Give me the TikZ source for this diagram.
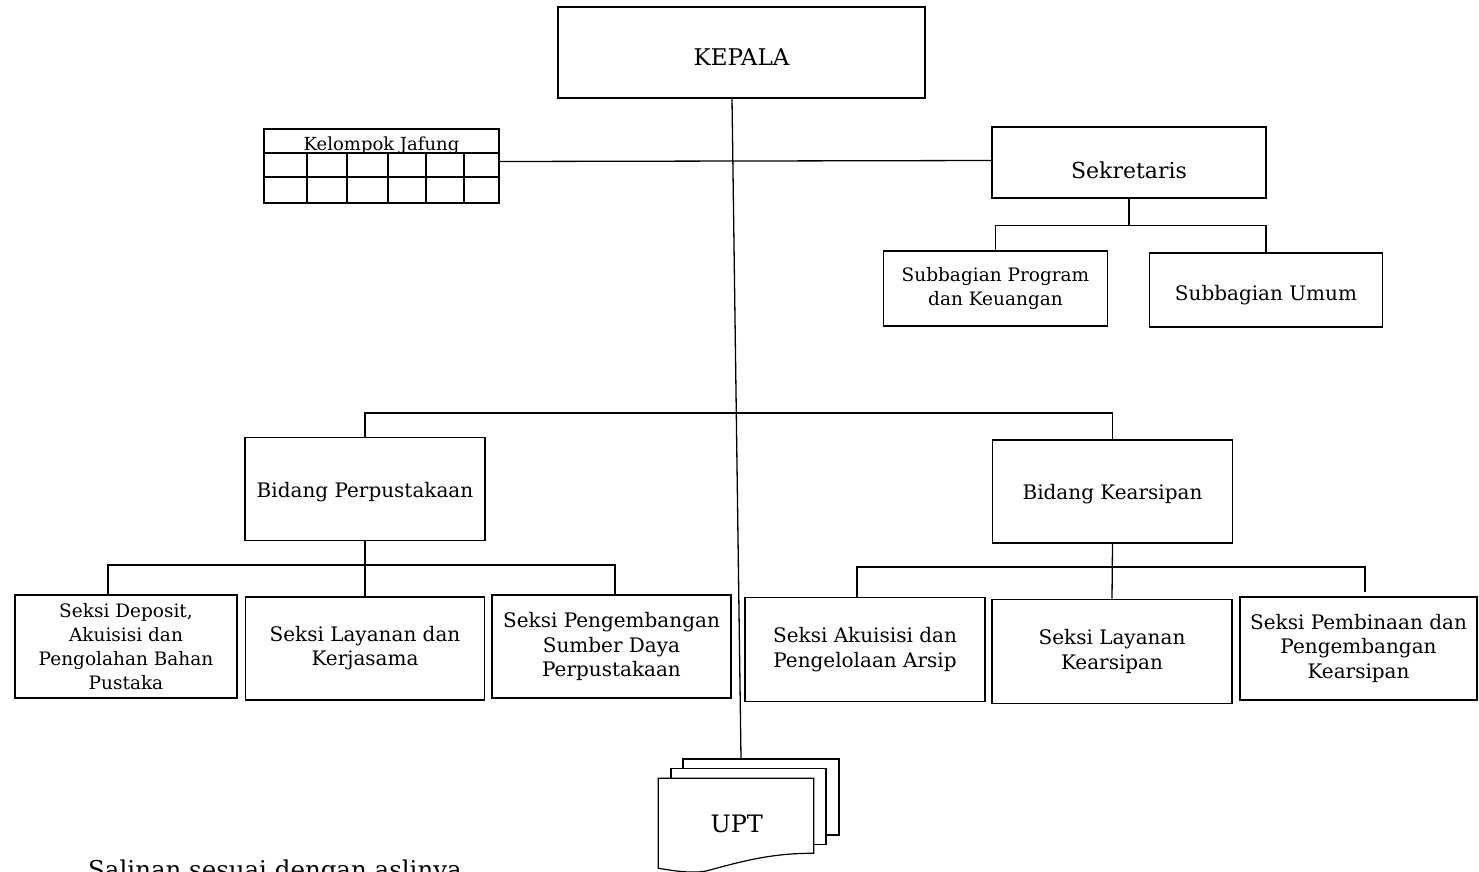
\documentclass[tikz,border=0pt]{standalone}
\usepackage{fontspec}
\setmainfont{DejaVu Serif}
\newcommand{\fsz}[2]{\fontsize{#1}{#2}\selectfont}
\tikzset{
  box/.style={draw, line width=1.5pt, inner sep=0pt, align=center, font=\fsz{20}{24.5}},
  smallbox/.style={box, font=\fsz{18.5}{24}},
  lbl/.style={inner sep=0pt, align=center, font=\fsz{20}{24.5}},
  conn/.style={line width=1.3pt},
  tbl/.style={line width=1.3pt},
  page/.style={draw, fill=white, line width=1.2pt, inner sep=0pt},
}
\begin{document}
\begin{tikzpicture}[x=1pt,y=-1pt]
\fill[white] (0,0) rectangle (1479,871);
\useasboundingbox (0,0) rectangle (1479,871);
\clip (0,0) rectangle (1479,871);

% KEPALA
\node[box, minimum width=367pt, minimum height=91pt,
  label={[lbl, font=\fsz{23}{27}, yshift=-4.5pt]center:KEPALA}] (kepala) at (741.5,52.5) {};

% Kelompok Jafung table
\node[draw, tbl, inner sep=0pt, minimum width=235pt, minimum height=74pt] (jaf) at (381.5,166) {};
\node[anchor=base, inner sep=0pt, font=\fsz{18}{22}] (jaft) at (381.5,150.5) {Kelompok Jafung};
\draw[tbl] (264,153) -- (499,153);
\draw[tbl] (264,177) -- (499,177);
\foreach \xx in {307,347,388,426,464} \draw[tbl] (\xx,153) -- (\xx,203);

% Sekretaris
\node[box, minimum width=274pt, minimum height=71pt,
  label={[lbl, font=\fsz{22}{26}, yshift=-8pt]center:Sekretaris}] (sek) at (1129,162.5) {};
\node[smallbox, minimum width=224pt, minimum height=75pt] (sp) at (995.5,288.5) {Subbagian Program\\dan Keuangan};
\node[box, minimum width=233pt, minimum height=74pt,
  label={[lbl, yshift=-5pt]center:Subbagian Umum}] (su) at (1266,290) {};

% Bidang
\node[box, minimum width=240pt, minimum height=103pt,
  label={[lbl, yshift=-3pt]center:Bidang Perpustakaan}] (bp) at (365,489) {};
\node[box, minimum width=240pt, minimum height=103pt,
  label={[lbl, yshift=-2pt]center:Bidang Kearsipan}] (bk) at (1112.5,491.7) {};

% Seksi perpustakaan
\node[smallbox, minimum width=222pt, minimum height=103pt] (sd) at (126,646.5) {Seksi Deposit,\\Akuisisi dan\\Pengolahan Bahan\\Pustaka};
\node[box, minimum width=239pt, minimum height=103pt] (sl) at (365,648.3) {Seksi Layanan dan\\Kerjasama};
\node[box, minimum width=239pt, minimum height=103pt] (sg) at (611.5,646.5) {Seksi Pengembangan\\Sumber Daya\\Perpustakaan};

% Seksi kearsipan
\node[box, minimum width=240pt, minimum height=104pt] (sa) at (865,649.5) {Seksi Akuisisi dan\\Pengelolaan Arsip};
\node[box, minimum width=240pt, minimum height=104pt] (sk) at (1112,651.3) {Seksi Layanan\\Kearsipan};
\node[box, minimum width=237pt, minimum height=103pt] (sb) at (1358.5,648.3) {Seksi Pembinaan dan\\Pengembangan\\Kearsipan};

% UPT stack
\node[page, minimum width=156pt, minimum height=76pt] (upt3) at (761,797) {};
\node[page, minimum width=155pt, minimum height=76pt] (upt2) at (748.4,806.3) {};
\draw[line width=1.2pt, fill=white] (658.3,778.3) -- (813.7,778.3) -- (813.7,853.3)
  .. controls (770,853) and (740,862) .. (706,871)
  .. controls (690,874) and (670,870) .. (658.3,868.3) -- cycle;
\node[inner sep=0pt, font=\fsz{24}{28}] (upt) at (736.7,824) {UPT};

% connectors
\draw[conn] ([xshift=-9.5pt]kepala.south) -- ([xshift=-20pt]upt3.north);
\draw[conn] ([yshift=4.5pt]jaf.east) -- ([yshift=2pt]sek.west);
\draw[conn] (sek.south) -- ++(0,27) coordinate (sekh);
\draw[conn] (sp.north) |- (sekh) -| (su.north);
\draw[conn] (bp.north) -- ++(0,-23.7) coordinate (toph) -| (bk.north);
\coordinate (h1L) at (108,565);
\coordinate (h1R) at (615,565);
\draw[conn] (bp.south) -- (sl.north);
\draw[conn] (h1L |- sd.north) -- (h1L) -- (h1R) -- (h1R |- sg.north);
\coordinate (h2L) at (857,567);
\coordinate (h2R) at (1365,567);
\draw[conn] (bk.south) -- (sk.north);
\draw[conn] (h2L |- sa.north) -- (h2L) -- (h2R) -- ([yshift=4pt]h2R |- sb.north);

% footer text
\node[anchor=north west, inner sep=0pt, font=\fsz{24.5}{29}] (salinan) at (88,860) {Salinan sesuai dengan aslinya};
\end{tikzpicture}
\end{document}
